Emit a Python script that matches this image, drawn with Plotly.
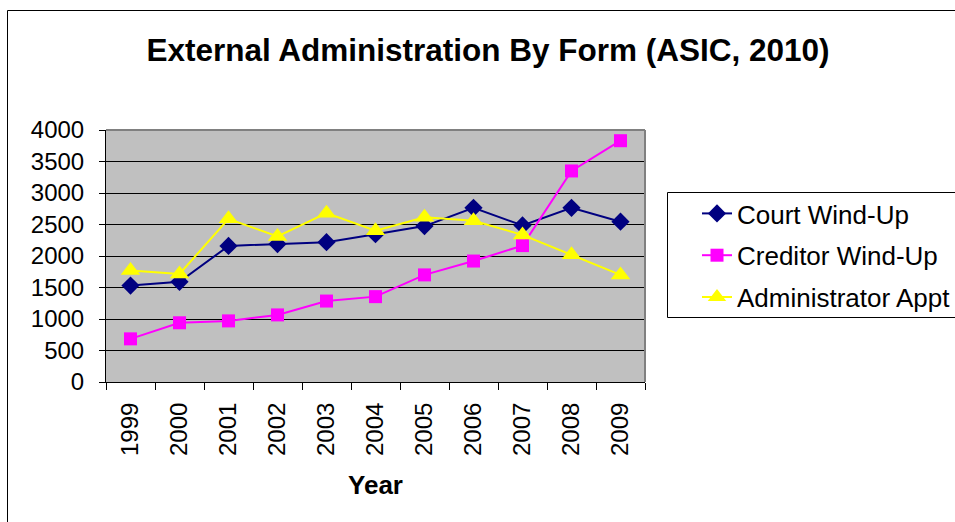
import plotly.graph_objects as go

years = ["1999", "2000", "2001", "2002", "2003", "2004", "2005", "2006", "2007", "2008", "2009"]
court_wind_up = [1530, 1590, 2160, 2190, 2220, 2345, 2475, 2765, 2485, 2765, 2545]
creditor_wind_up = [685, 940, 970, 1065, 1285, 1355, 1700, 1920, 2165, 3350, 3830]
administrator_appt = [1770, 1715, 2590, 2310, 2680, 2400, 2615, 2560, 2335, 2020, 1700]

series = [
    ("Court Wind-Up", court_wind_up, "#000080", "diamond", 14),
    ("Creditor Wind-Up", creditor_wind_up, "#FF00FF", "square", 13),
    ("Administrator Appt", administrator_appt, "#FFFF00", "triangle-up", 17),
]

FONT = "Liberation Sans, Arial, sans-serif"

fig = go.Figure()
for i, (name, vals, color, sym, msize) in enumerate(series):
    fig.add_trace(go.Scatter(
        x=years, y=vals, name=name, mode="lines+markers",
        legendgroup=f"g{i}",
        line=dict(color=color, width=2),
        marker=dict(symbol=sym, size=msize, color=color, line=dict(width=0)),
    ))

L, R, T, B = 106, 310, 130, 140
W, H = 955, 522
pw = W - L - R
ph = H - T - B

def px_x(x):
    return (x - L) / pw

def px_y(y):
    return (H - B - y) / ph

fig.update_layout(
    width=W, height=H,
    margin=dict(l=L, r=R, t=T, b=B, autoexpand=False),
    paper_bgcolor="white",
    plot_bgcolor="#C0C0C0",
    font=dict(family=FONT, size=24, color="black"),
    title=dict(
        text="<b>External Administration By Form (ASIC, 2010)</b>",
        font=dict(family=FONT, size=31.5, color="black"),
        xref="container", yref="container",
        x=488 / W, y=1 - 50 / H, xanchor="center", yanchor="middle",
    ),
    showlegend=True,
    legend=dict(
        x=px_x(697), y=px_y(190), xanchor="left", yanchor="top",
        xref="paper", yref="paper",
        bgcolor="rgba(0,0,0,0)", borderwidth=0,
        font=dict(family=FONT, size=26, color="black"),
        tracegroupgap=5,
        itemwidth=30,
    ),
    xaxis=dict(
        type="category",
        range=[-0.5, 10.5],
        tickson="boundaries",
        ticks="outside", ticklen=7, tickwidth=1, tickcolor="black",
        showline=True, linecolor="black", linewidth=1,
        showgrid=False,
        tickangle=-90,
        tickfont=dict(family=FONT, size=24),
        ticklabelstandoff=10,
        title=dict(text="<b>Year</b>", font=dict(family=FONT, size=26), standoff=20),
        mirror=False,
    ),
    yaxis=dict(
        range=[0, 4000],
        tick0=0, dtick=500,
        ticks="outside", ticklen=6, tickwidth=1, tickcolor="black",
        showline=True, linecolor="black", linewidth=1,
        showgrid=True, gridcolor="black", gridwidth=1,
        zeroline=False,
        tickfont=dict(family=FONT, size=24),
        ticklabelstandoff=10,
    ),
    shapes=[
        dict(type="line", xref="paper", yref="paper", x0=0, x1=1, y0=1, y1=1,
             line=dict(color="#808080", width=2), layer="above"),
        dict(type="line", xref="paper", yref="paper", x0=1, x1=1, y0=0, y1=1,
             line=dict(color="#808080", width=2), layer="above"),
        dict(type="rect", xref="paper", yref="paper",
             x0=px_x(7.5), x1=px_x(970), y0=px_y(540), y1=px_y(10.5),
             line=dict(color="black", width=1), fillcolor="rgba(0,0,0,0)", layer="below"),
        dict(type="rect", xref="paper", yref="paper",
             x0=px_x(667.5), x1=px_x(970), y0=px_y(317.5), y1=px_y(192.5),
             line=dict(color="black", width=1), fillcolor="white", layer="below"),
    ],
)

fig.write_html("out.html")
